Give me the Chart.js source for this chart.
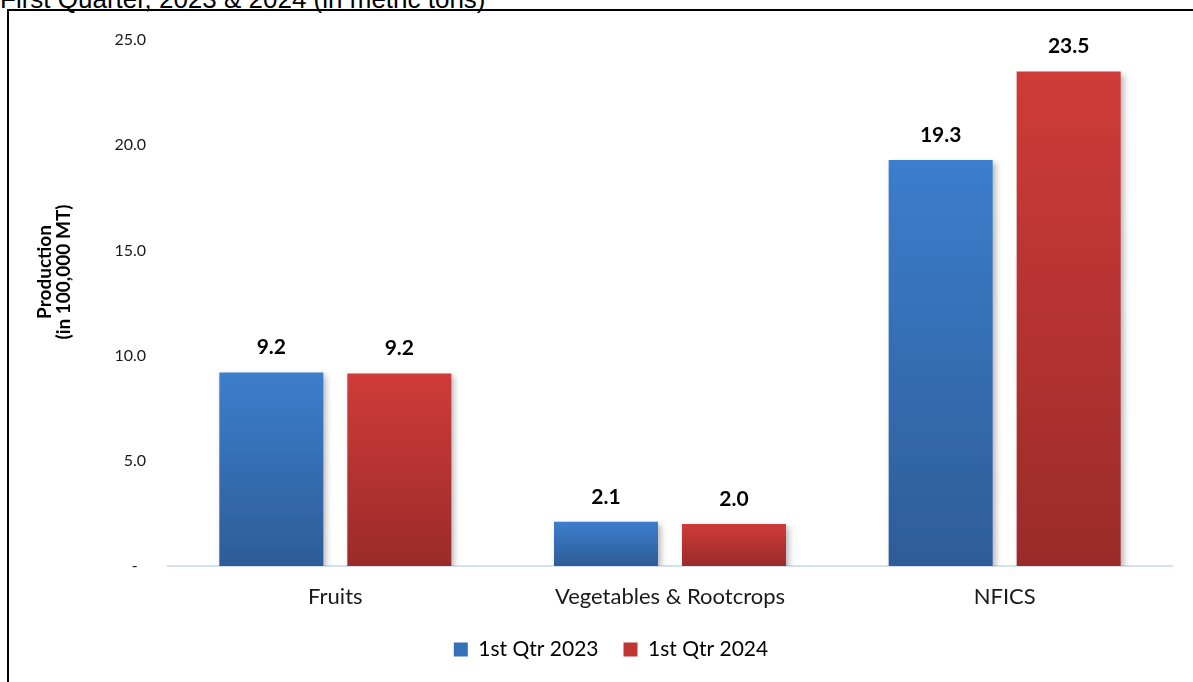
<!DOCTYPE html>
<html>
<head>
<meta charset="utf-8">
<script src="https://cdn.jsdelivr.net/npm/chart.js@4.4.1/dist/chart.umd.min.js"></script>
<style>
  html, body { margin: 0; padding: 0; width: 1193px; height: 682px; overflow: hidden; background: #fff; }
  #title { position: absolute; left: 0; top: -14px; font-family: "Liberation Sans", Arial, sans-serif; font-size: 26px; line-height: 26px; color: #000; white-space: nowrap; }
  #frame { position: absolute; left: 7px; top: 9px; width: 1204px; height: 680px; border-left: 2px solid #000; border-top: 2px solid #000; }
  #wrap { position: absolute; left: 0; top: 0; width: 1204px; height: 671px; }
</style>
</head>
<body>
<div id="title">First Quarter, 2023 &amp; 2024 (in metric tons)</div>
<div id="frame"><div id="wrap"><canvas id="c"></canvas></div></div>
<script>
const categories = ['Fruits', 'Vegetables & Rootcrops', 'NFICS'];
const series2023 = [9.2, 2.1, 19.3];
const series2024 = [9.15, 2.0, 23.5];
const labels2023 = ['9.2', '2.1', '19.3'];
const labels2024 = ['9.2', '2.0', '23.5'];
const seriesNames = ['1st Qtr 2023', '1st Qtr 2024'];
const yTicks = [0, 5, 10, 15, 20, 25];
const yTitle = ['Production', '(in 100,000 MT)'];

const FONT = 'Lato, "Open Sans", sans-serif';
const colorSets = [
  { top: '#3c7ecd', bottom: '#2e5c97', solid: '#3571bb' },
  { top: '#cf3b38', bottom: '#9a2b2a', solid: '#bf3633' }
];

function barGradient(ctx, idx) {
  const chart = ctx.chart;
  const cs = colorSets[idx];
  if (!chart.chartArea || ctx.type !== 'data') return cs.solid;
  const y = chart.scales.y;
  const v = ctx.raw;
  const top = y.getPixelForValue(v);
  const bottom = y.getPixelForValue(0);
  if (!isFinite(top) || !isFinite(bottom) || bottom - top < 1) return cs.solid;
  const g = chart.ctx.createLinearGradient(0, top, 0, bottom);
  g.addColorStop(0, cs.top);
  g.addColorStop(1, cs.bottom);
  return g;
}

const shadowPlugin = {
  id: 'barShadow',
  beforeDatasetDraw(chart) {
    const c = chart.ctx;
    c.save();
    c.shadowColor = 'rgba(0,0,0,0.28)';
    c.shadowBlur = 6;
    c.shadowOffsetX = 3;
    c.shadowOffsetY = 3;
  },
  afterDatasetDraw(chart) { chart.ctx.restore(); }
};

const valueLabelPlugin = {
  id: 'valueLabels',
  afterDatasetsDraw(chart) {
    const c = chart.ctx;
    const texts = [labels2023, labels2024];
    c.save();
    c.font = 'bold 21px ' + FONT;
    c.fillStyle = '#000';
    c.textAlign = 'center';
    c.textBaseline = 'middle';
    chart.data.datasets.forEach((ds, di) => {
      const meta = chart.getDatasetMeta(di);
      meta.data.forEach((bar, i) => {
        c.fillText(texts[di][i], bar.x, bar.y - 25);
      });
    });
    c.restore();
  }
};

const yTitlePlugin = {
  id: 'yTitle',
  afterDraw(chart) {
    const c = chart.ctx;
    c.save();
    c.font = 'bold 19px ' + FONT;
    c.fillStyle = '#000';
    c.textAlign = 'center';
    c.textBaseline = 'middle';
    c.translate(36, 261);
    c.rotate(-Math.PI / 2);
    c.fillText(yTitle[0], 0, 0);
    c.fillText(yTitle[1], 0, 19);
    c.restore();
  }
};

new Chart(document.getElementById('c'), {
  type: 'bar',
  data: {
    labels: categories,
    datasets: [
      { label: seriesNames[0], data: series2023, backgroundColor: (ctx) => barGradient(ctx, 0), borderWidth: 0 },
      { label: seriesNames[1], data: series2024, backgroundColor: (ctx) => barGradient(ctx, 1), borderWidth: 0 }
    ]
  },
  options: {
    responsive: true,
    maintainAspectRatio: false,
    animation: false,
    layout: { padding: { left: 41, right: 41, top: 29, bottom: 12 } },
    datasets: { bar: { barPercentage: 0.8125, categoryPercentage: 0.765 } },
    plugins: {
      legend: {
        position: 'bottom',
        labels: {
          font: { family: FONT, size: 21 },
          color: '#000',
          boxWidth: 14,
          boxHeight: 14,
          padding: 25,
          generateLabels(chart) {
            return chart.data.datasets.map((ds, i) => ({
              text: ds.label,
              fillStyle: colorSets[i].solid,
              strokeStyle: colorSets[i].solid,
              lineWidth: 0,
              hidden: false,
              datasetIndex: i,
              fontColor: '#000'
            }));
          }
        }
      },
      tooltip: { enabled: false },
      title: { display: false }
    },
    scales: {
      x: {
        grid: { display: false, drawTicks: false },
        border: { display: true, color: '#d3e0ef', width: 2 },
        ticks: { font: { family: FONT, size: 22 }, color: '#1a1a1a', padding: 18 },
        afterFit(scale) { scale.height = 48; }
      },
      y: {
        min: 0,
        max: 25,
        afterBuildTicks(scale) { scale.ticks = yTicks.map(v => ({ value: v })); },
        grid: { display: false, drawTicks: true, tickLength: 19 },
        border: { display: false },
        ticks: {
          font: { family: FONT, size: 16 },
          color: '#1a1a1a',
          padding: 3,
          callback: (v) => v === 0 ? '-  ' : Number(v).toFixed(1)
        },
        afterFit(scale) { scale.width = 118; }
      }
    }
  },
  plugins: [shadowPlugin, valueLabelPlugin, yTitlePlugin]
});
</script>
</body>
</html>
